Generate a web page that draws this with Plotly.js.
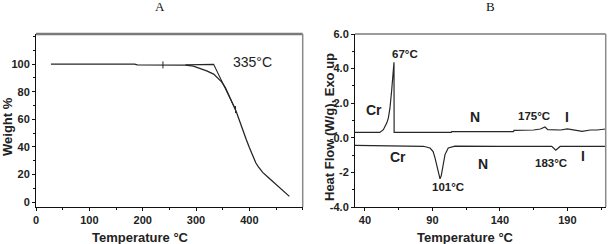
<!DOCTYPE html>
<html>
<head>
<meta charset="utf-8">
<script src="https://cdn.plot.ly/plotly-3.0.1.min.js"></script>
<style>html,body{margin:0;padding:0;background:#fff;}#chart{width:611px;height:244px;}</style>
</head>
<body>
<div id="chart"></div>
<script>
// ---- Panel A: TGA ----
const tgaTemp = [28, 100, 185, 190, 238, 280, 295, 308, 320, 333, 341, 348, 355, 362, 369, 375, 381, 388, 394, 400, 406, 412, 417, 425, 435, 445, 455, 465, 475];
const tgaWeight = [100, 100, 100, 99.4, 99.4, 99.3, 98.5, 96.9, 95, 92.7, 90, 87.1, 83, 77.5, 71, 66, 59, 52, 45.5, 39.5, 33.5, 28.5, 25.4, 21.5, 18, 14.5, 11, 7.3, 4.1];
const onsetTemp = [280, 333, 374];
const onsetWeight = [99.5, 99.8, 67];
const markTemp = [238, 374];
const markWeight = [99.4, 67];
const xTicksA = [0, 100, 200, 300, 400];
const yTicksA = [0, 20, 40, 60, 80, 100];

// ---- Panel B: DSC ----
const heatTemp = [32.6, 51, 53.6, 56.1, 57.3, 58.5, 59.8, 60.5, 61.5, 61.6, 104, 104.3, 150, 150.5, 165, 170, 173.4, 175.5, 177, 185, 190, 195, 201, 207, 212, 218.4];
const heatFlow = [0.31, 0.31, 0.47, 0.85, 1.14, 1.71, 2.76, 3.63, 4.36, 0.31, 0.31, 0.36, 0.36, 0.43, 0.45, 0.51, 0.62, 0.47, 0.47, 0.45, 0.51, 0.45, 0.37, 0.45, 0.45, 0.51];
const coolTemp = [32.6, 60, 83.2, 88.2, 90.5, 91.9, 93.6, 95.1, 95.6, 96.5, 97.6, 99.3, 101.7, 106.7, 140, 178.4, 181.4, 184.6, 200, 218.4];
const coolFlow = [-0.44, -0.47, -0.49, -0.59, -0.8, -1.16, -1.74, -2.31, -2.37, -2.2, -1.74, -0.97, -0.59, -0.48, -0.49, -0.49, -0.72, -0.5, -0.49, -0.49];
const xTicksB = [40, 90, 140, 190];
const yTicksB = [-4, -2, 0, 2, 4, 6];
const yTickTextB = ['-4.0', '-2', '-0.0', '2.0', '4.0', '6.0'];

// labels placed in data space of panel B
const labelTextB = ['67°C', 'Cr', 'N', '175°C', 'I', 'Cr', 'N', '183°C', 'I', '101°C'];
const labelXB = [69.7, 46.7, 121.5, 165.6, 189.5, 64.8, 127.7, 177.7, 201.4, 101.2];
const labelYB = [4.87, 1.61, 1.2, 1.27, 1.2, -1.1, -1.5, -1.45, -1.07, -2.83];

const W = 611, H = 244;
const dom = [1 - 207 / H, 1 - 34 / H];
const domA = [36 / W, 302.7 / W];
const domB = [355 / W, 605.7 / W];

const sans = 'Liberation Sans, Arial, sans-serif';
const lineCol = '#262626';

const traces = [
  {x: tgaTemp, y: tgaWeight, mode: 'lines', line: {color: lineCol, width: 1.3}, xaxis: 'x', yaxis: 'y', hoverinfo: 'skip'},
  {x: onsetTemp, y: onsetWeight, mode: 'lines', line: {color: lineCol, width: 1.1}, xaxis: 'x', yaxis: 'y', hoverinfo: 'skip'},
  {x: markTemp, y: markWeight, mode: 'markers', marker: {symbol: 'line-ns', size: 5, line: {color: lineCol, width: 1}}, xaxis: 'x', yaxis: 'y', hoverinfo: 'skip'},
  {x: heatTemp, y: heatFlow, mode: 'lines', line: {color: lineCol, width: 1.2}, xaxis: 'x2', yaxis: 'y2', hoverinfo: 'skip'},
  {x: coolTemp, y: coolFlow, mode: 'lines', line: {color: lineCol, width: 1.2}, xaxis: 'x2', yaxis: 'y2', hoverinfo: 'skip'}
];

const tickFont = {family: sans, size: 11, color: '#222', weight: 'bold'};
function axisBase() {
  return {showline: true, linecolor: '#111', linewidth: 1, ticks: 'outside', ticklen: 3, tickcolor: '#111',
          showgrid: false, zeroline: false, tickfont: tickFont, fixedrange: true};
}

const layout = {
  width: W, height: H, margin: {l: 0, r: 0, t: 0, b: 0},
  paper_bgcolor: '#fff', plot_bgcolor: '#fff', showlegend: false,
  xaxis: Object.assign(axisBase(), {domain: domA, range: [0, 500], tickvals: xTicksA, anchor: 'y',
          minor: {dtick: 50, tick0: 0, ticks: 'outside', ticklen: 2, tickcolor: '#111'}}),
  yaxis: Object.assign(axisBase(), {domain: dom, range: [-3.6, 121.8], tickvals: yTicksA, anchor: 'x',
          minor: {dtick: 10, tick0: 0, ticks: 'outside', ticklen: 2, tickcolor: '#111'}}),
  xaxis2: Object.assign(axisBase(), {domain: domB, range: [32.6, 218.4], tickvals: xTicksB, anchor: 'y2',
          minor: {dtick: 25, tick0: 40, ticks: 'outside', ticklen: 2, tickcolor: '#111'}}),
  yaxis2: Object.assign(axisBase(), {domain: dom, range: [-4, 6], tickvals: yTicksB, ticktext: yTickTextB, anchor: 'x2',
          minor: {dtick: 1, tick0: 0, ticks: 'outside', ticklen: 2, tickcolor: '#111'}}),
  shapes: [
    {type: 'line', xref: 'paper', yref: 'paper', x0: domA[0], x1: domA[1], y0: dom[1], y1: dom[1], line: {color: '#7a7a7a', width: 2.5}},
    {type: 'line', xref: 'paper', yref: 'paper', x0: domA[1], x1: domA[1], y0: dom[0], y1: dom[1], line: {color: '#8a8a8a', width: 1.5}},
    {type: 'line', xref: 'paper', yref: 'paper', x0: domB[0], x1: domB[1], y0: dom[1], y1: dom[1], line: {color: '#7a7a7a', width: 1.5}},
    {type: 'line', xref: 'paper', yref: 'paper', x0: domB[1], x1: domB[1], y0: dom[0], y1: dom[1], line: {color: '#8a8a8a', width: 1.5}}
  ],
  annotations: []
};

const ann = layout.annotations;
const serif = 'Liberation Serif, Times New Roman, serif';
ann.push({text: 'A', xref: 'paper', yref: 'paper', x: 160 / W, y: 1 - 7 / H, showarrow: false, xanchor: 'center', yanchor: 'middle', font: {family: serif, size: 13, color: '#111'}});
ann.push({text: 'B', xref: 'paper', yref: 'paper', x: 490 / W, y: 1 - 7 / H, showarrow: false, xanchor: 'center', yanchor: 'middle', font: {family: serif, size: 13, color: '#111'}});
const titleFont = {family: sans, size: 13, color: '#222', weight: 'bold'};
ann.push({text: 'Temperature °C', xref: 'paper', yref: 'paper', x: 140 / W, y: 1 - 237 / H, showarrow: false, xanchor: 'center', yanchor: 'middle', font: titleFont});
ann.push({text: 'Temperature °C', xref: 'paper', yref: 'paper', x: 465 / W, y: 1 - 237 / H, showarrow: false, xanchor: 'center', yanchor: 'middle', font: titleFont});
ann.push({text: 'Weight %', xref: 'paper', yref: 'paper', x: 8 / W, y: 1 - 127 / H, showarrow: false, textangle: -90, xanchor: 'center', yanchor: 'middle', font: titleFont});
ann.push({text: 'Heat Flow (W/g), Exo up', xref: 'paper', yref: 'paper', x: 330 / W, y: 1 - 127 / H, showarrow: false, textangle: -90, xanchor: 'center', yanchor: 'middle', font: titleFont});
ann.push({text: '335°C', xref: 'x', yref: 'y', x: 405, y: 101.5, showarrow: false, xanchor: 'center', yanchor: 'middle', font: {family: sans, size: 14, color: '#222'}});

for (let i = 0; i < labelTextB.length; i++) {
  const isTemp = labelTextB[i].indexOf('°') >= 0;
  ann.push({text: labelTextB[i], xref: 'x2', yref: 'y2', x: labelXB[i], y: labelYB[i], showarrow: false,
            xanchor: 'center', yanchor: 'middle',
            font: {family: sans, size: isTemp ? 11.5 : 14, color: '#222', weight: 'bold'}});
}

Plotly.newPlot('chart', traces, layout, {staticPlot: true, displayModeBar: false});
</script>
</body>
</html>
